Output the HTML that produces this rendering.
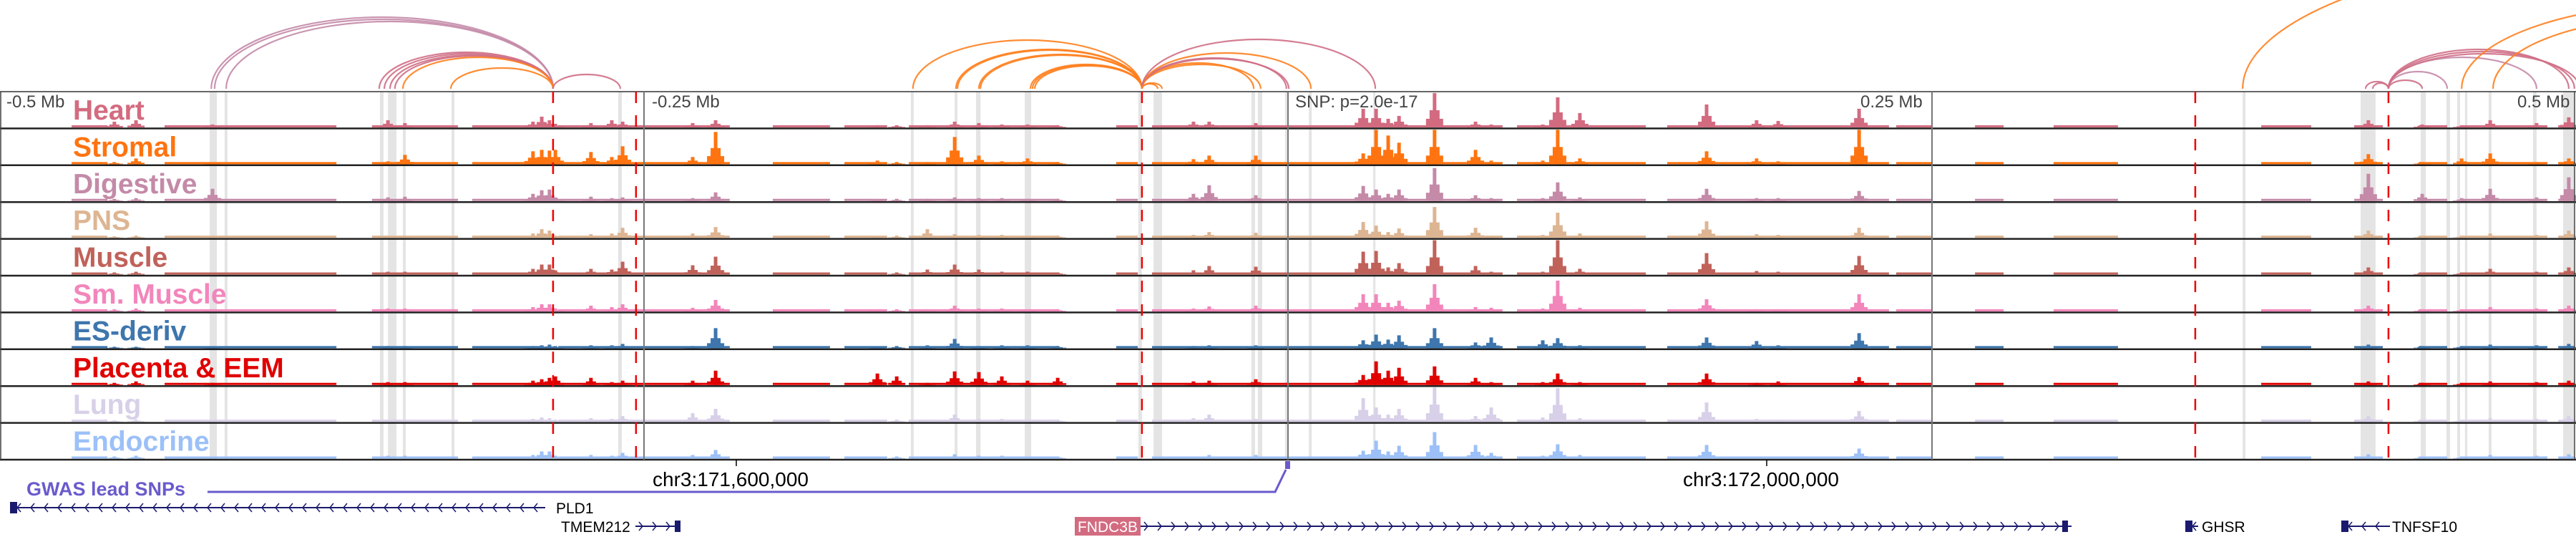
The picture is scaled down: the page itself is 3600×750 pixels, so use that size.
<!DOCTYPE html>
<html><head><meta charset="utf-8"><style>
html,body{margin:0;padding:0;background:#fff;width:3600px;height:750px;overflow:hidden}
svg{display:block;font-family:"Liberation Sans",sans-serif}
</style></head><body>
<svg id="chart" width="3600" height="750" viewBox="0 0 3600 750" xmlns="http://www.w3.org/2000/svg">
<g id="arcs"></g>
<g id="bands"></g>
<g id="tracks"></g>
<g id="vlines"></g>
<g id="labels"></g>
<g id="genes"></g>
</svg>
<script>
const trackNames=["Heart","Stromal","Digestive","PNS","Muscle","Sm. Muscle","ES-deriv","Placenta & EEM","Lung","Endocrine"];
const trackColors=["#d36b80","#ff7410","#c48aa8","#ddb592","#c0625a","#f286bb","#3e76ad","#e00000","#d8d0e8","#9cc0f8"];
const peakPos=[-455.6,-447.2,-417.5,-349.4,-342.8,-293.1,-289.7,-286.7,-284.4,-270.6,-262.5,-258.3,-231.1,-222.2,-159.4,-151.9,-140,-129.4,-120,-111.1,-101.1,-89.4,-36.7,-30.6,-12.5,29.2,34.2,38.9,43.1,56.9,72.8,78.9,98.9,104.7,113.3,162.5,181.9,190.3,221.7,419.4,440.3,455.6,466.7,484.7,497.2];
const heartVals=[8,10,4,10,6,8,15,10,5,6,10,8,6,10,3,3,3,8,6,4,4,3,8,8,6,26,26,12,16,48,8,4,4,42,20,32,10,9,26,10,4,3,10,6,14];
const stromalVals=[3,8,2,4,13,18,20,19,20,17,10,25,10,45,5,3,3,38,12,4,8,3,7,12,12,15,48,40,30,48,20,5,5,48,8,18,8,4,48,14,3,8,15,3,8];
const digestiveVals=[3,4,17,5,6,10,15,16,5,6,4,5,4,12,2,3,3,5,4,4,3,3,10,22,8,21,16,10,16,46,8,4,4,26,5,17,4,4,14,38,10,4,17,5,33];
const pnsVals=[2,3,3,3,3,6,12,10,3,5,6,14,6,15,2,3,12,5,4,4,3,3,4,8,7,22,17,8,13,43,14,3,4,35,6,23,5,4,14,10,3,3,6,4,10];
const muscleVals=[3,4,3,4,4,8,14,14,6,8,7,18,13,25,3,3,7,14,7,4,4,3,6,12,11,32,33,10,16,48,12,4,4,48,8,30,5,4,26,10,3,3,8,4,10];
const smMuscleVals=[3,4,3,4,4,6,10,10,4,8,6,10,5,16,3,3,3,8,4,4,3,3,4,7,8,24,24,12,15,38,6,5,4,43,5,17,3,3,24,8,3,3,6,4,8];
const esVals=[2,2,2,3,3,3,4,5,3,4,4,6,3,28,2,3,4,13,3,4,4,3,3,4,4,11,19,12,18,28,8,15,11,14,4,15,10,4,21,5,3,3,5,4,6];
const placentaVals=[3,5,3,4,4,6,8,10,12,10,4,6,6,20,16,12,3,19,18,12,6,10,5,6,8,14,33,20,24,26,10,4,4,16,4,16,3,5,11,5,3,3,5,4,6];
const lungVals=[2,3,3,3,3,4,6,5,3,5,4,8,12,18,2,3,3,10,4,4,3,3,5,10,4,33,20,10,18,48,8,20,6,47,5,27,4,3,15,8,3,3,5,4,8];
const endocrineVals=[3,4,3,4,4,5,10,10,4,5,4,8,5,12,2,3,3,6,4,4,3,3,3,5,5,11,25,10,18,37,19,8,4,20,5,19,3,3,14,6,3,3,5,4,6];
const bgRanges=[[-472.2,-458.3],[-436.1,-369.4],[-355.6,-322.2],[-316.7,-288.9],[-283.3,-216.7],[-200,-177.8],[-172.2,-155.6],[-147.2,-88.9],[-66.7,-58.3],[-52.8,83.3],[88.9,138.9],[147.2,233.3],[236.1,250],[266.7,277.8],[297.2,322.2],[377.8,397.2],[413.9,425],[438.9,450],[455.6,488.9],[493.1,499.4]];
const bgLevel=[3,3,3,3,3,3,3,3,3,3];
const bandRanges=[[-418.6,-415.8],[-412.8,-411.7],[-352.5,-351.1],[-349.4,-346.1],[-343.6,-342.5],[-324.7,-323.6],[-260,-258.6],[-146.4,-145.3],[-129.4,-128.3],[-121.1,-119.4],[-102.2,-99.7],[-58.1,-56.7],[-52.2,-48.9],[-14.2,-12.8],[-11.7,-10],[-1.1,-0.3],[8.1,9.2],[33.1,33.9],[370.6,371.7],[416.4,422.2],[439.7,441.7],[449.7,451.1],[453.9,455],[456.9,457.8],[466.1,467.2],[483.3,484.7],[495,499.4]];
const redLines=[-285.3,-253.1,-56.7,352.2,427.2];
const greyLines=[-250,0,250];
const axisTicks=[-500,-250,250,500];
const axisTickLabels=["-0.5 Mb","-0.25 Mb","0.25 Mb","0.5 Mb"];
const arcStart=[-418,-416.7,-412.2,-352.8,-350.8,-348.6,-346.7,-343.6,-325,-285.3,-145.6,-128.9,-128.3,-120,-119.4,-100,-99.2,-98.3,-56.7,-56.7,-56.7,-56.7,-56.7,-56.7,-56.7,-56.7,370.6,418.3,421.1,427.2,427.2,427.2,427.2,427.2,427.2,455.6,467.8];
const arcEnd=[-285.3,-285.3,-285.3,-285.3,-285.3,-285.3,-285.3,-285.3,-285.3,-259.2,-56.7,-56.7,-56.7,-56.7,-56.7,-56.7,-56.7,-56.7,-13.3,-10.6,-0.6,0.3,8.9,33.9,-50.6,-48.9,722.2,427.2,427.2,440.3,450,484.7,497.2,499.4,501.4,638.9,611.1];
const arcPeak=[24,27,30,73,75,77,78,80,95,104,56,69,70,76,77,90,91,92,88,90,81,82,74,55,117,116,-76,114,116,112,100,80,69,72,75,4,24];
const arcKind=[2,2,2,0,0,0,0,1,1,0,1,1,1,1,1,1,1,1,1,1,0,0,1,0,1,1,1,0,0,0,2,2,0,0,0,1,1];
const arcColors=["#cf6f86","#ff7f1e","#c48aa8"];

const NS="http://www.w3.org/2000/svg";
const X0=0,X1=3600,TOP=128,TH=51.4,BASEY=124;
function xs(kb){return X0+(kb+500)/1000*(X1-X0);}
function mk(tag,attrs,parent){const e=document.createElementNS(NS,tag);for(const k in attrs)e.setAttribute(k,attrs[k]);parent.appendChild(e);return e;}
const allVals=[heartVals,stromalVals,digestiveVals,pnsVals,muscleVals,smMuscleVals,esVals,placentaVals,lungVals,endocrineVals];

const gA=document.getElementById('arcs');
arcStart.forEach((s,i)=>{
  const x1=xs(s),x2=xs(arcEnd[i]);const rx=(x2-x1)/2,ry=BASEY-arcPeak[i];
  const p=mk('path',{d:`M${x1} ${BASEY} A${rx} ${ry} 0 0 1 ${x2} ${BASEY}`,fill:'none',stroke:arcColors[arcKind[i]],'stroke-width':2.2,'stroke-opacity':0.9},gA);
  
  
});
const gB=document.getElementById('bands');
bandRanges.forEach(b=>{
  const r=mk('rect',{x:xs(b[0]),y:TOP,width:Math.max(3,xs(b[1])-xs(b[0])),height:TH*10,fill:'#e4e4e4'},gB);
  
  
});
const gT=document.getElementById('tracks');
allVals.forEach((vals,t)=>{
  const g=mk('g',{},gT);
  
  
  const base=TOP+TH*(t+1)-1.5;
  bgRanges.forEach(r=>{
    const e=mk('rect',{x:xs(r[0]),y:base-bgLevel[t],width:xs(r[1])-xs(r[0]),height:bgLevel[t],fill:trackColors[t]},g);
    
    
  });
  peakPos.forEach((p,i)=>{
    const h=vals[i];const cx=xs(p);
    const e=mk('rect',{x:cx-2.5,y:base-h,width:5,height:h,fill:trackColors[t]},g);
    
    
    const s=mk('rect',{x:cx-7,y:base-h*0.5,width:14,height:h*0.5,fill:trackColors[t]},g);
    
    
    const s2=mk('rect',{x:cx-12,y:base-h*0.25,width:24,height:h*0.25,fill:trackColors[t]},g);
    
    
  });
});
for(let t=0;t<=10;t++){
  const l=mk('line',{x1:0,x2:3600,y1:TOP+TH*t,y2:TOP+TH*t,stroke:t==0?'#333':'#222','stroke-width':t==0?1.5:2.5},gT);
  
  
}
mk('line',{x1:1,x2:1,y1:TOP,y2:TOP+TH*10,stroke:'#444','stroke-width':1.5},gT);
mk('line',{x1:3598,x2:3598,y1:TOP,y2:TOP+TH*10,stroke:'#444','stroke-width':1.5},gT);
const gV=document.getElementById('vlines');
greyLines.forEach(k=>{
  const l=mk('line',{x1:xs(k),x2:xs(k),y1:TOP,y2:TOP+TH*10,stroke:'#777','stroke-width':2},gV);
  
  
});
redLines.forEach(k=>{
  const l=mk('line',{x1:xs(k),x2:xs(k),y1:TOP,y2:TOP+TH*10,stroke:'#ee0000','stroke-width':2.5,'stroke-dasharray':'16 17'},gV);
  
  
});
const gL=document.getElementById('labels');
trackNames.forEach((n,t)=>{
  const e=mk('text',{x:102,y:TOP+TH*t+39,'font-size':39,'font-weight':'bold',fill:trackColors[t]},gL);
  e.textContent=n;
  
  
});
axisTicks.forEach((k,i)=>{
  let x=xs(k)+(i==0?9:i==1?11:i==2?-100:-82);
  const e=mk('text',{x:x,y:150,'font-size':24,fill:'#444'},gL);
  e.textContent=axisTickLabels[i];
  
  
});
const snp=mk('text',{x:1810,y:150,'font-size':24,fill:'#444'},gL);
snp.textContent="SNP: p=2.0e-17";



const gG=document.getElementById('genes');
gG.innerHTML=`
<line x1="1029" y1="642" x2="1029" y2="651" stroke="#000" stroke-width="1.5"/>
<line x1="2469" y1="642" x2="2469" y2="651" stroke="#000" stroke-width="1.5"/>
<text x="912" y="679" font-size="28" fill="#000">chr3:171,600,000</text>
<text x="2352" y="679" font-size="28" fill="#000">chr3:172,000,000</text>
<text x="37" y="692" font-size="27" font-weight="bold" fill="#6a5acd">GWAS lead SNPs</text>
<polyline points="290,687 1782,687 1797,656" fill="none" stroke="#6a5acd" stroke-width="3"/>
<rect x="1796" y="644" width="7" height="11" fill="#6a5acd"/>
<text x="777" y="717" font-size="21" fill="#000">PLD1</text>
<text x="784" y="743" font-size="21" fill="#000">TMEM212</text>
<rect x="1502" y="722" width="92" height="26" fill="#d36b80"/>
<text x="1548" y="743" font-size="21" fill="#fff" text-anchor="middle">FNDC3B</text>
<text x="3077" y="743" font-size="21" fill="#000">GHSR</text>
<text x="3343" y="743" font-size="21" fill="#000">TNFSF10</text>`;
function gene(name,x1,x2,y,dir,endX){
  const g=mk('g',{},gG);
  
  
  mk('line',{x1:x1,x2:x2,y1:y,y2:y,stroke:'#1a1a6e','stroke-width':2},g);
  let d='';
  for(let x=x1+10;x<x2-4;x+=19){d+=dir<0?`M${x+5} ${y-6}L${x} ${y}L${x+5} ${y+6}`:`M${x-5} ${y-6}L${x} ${y}L${x-5} ${y+6}`;}
  mk('path',{d:d,fill:'none',stroke:'#1a1a6e','stroke-width':1.5},g);
  mk('rect',{x:endX,y:y-8,width:dir<0?10:8,height:16,fill:'#1a1a6e'},g);
}
gene('pld1',14,762,709,-1,14);
gene('tmem212',888,948,735,1,943);
gene('fndc3b',1594,2895,735,1,2882);
gene('ghsr',3054,3072,735,-1,3054);
gene('tnfsf10',3272,3340,735,-1,3272);
</script>
</body></html>
